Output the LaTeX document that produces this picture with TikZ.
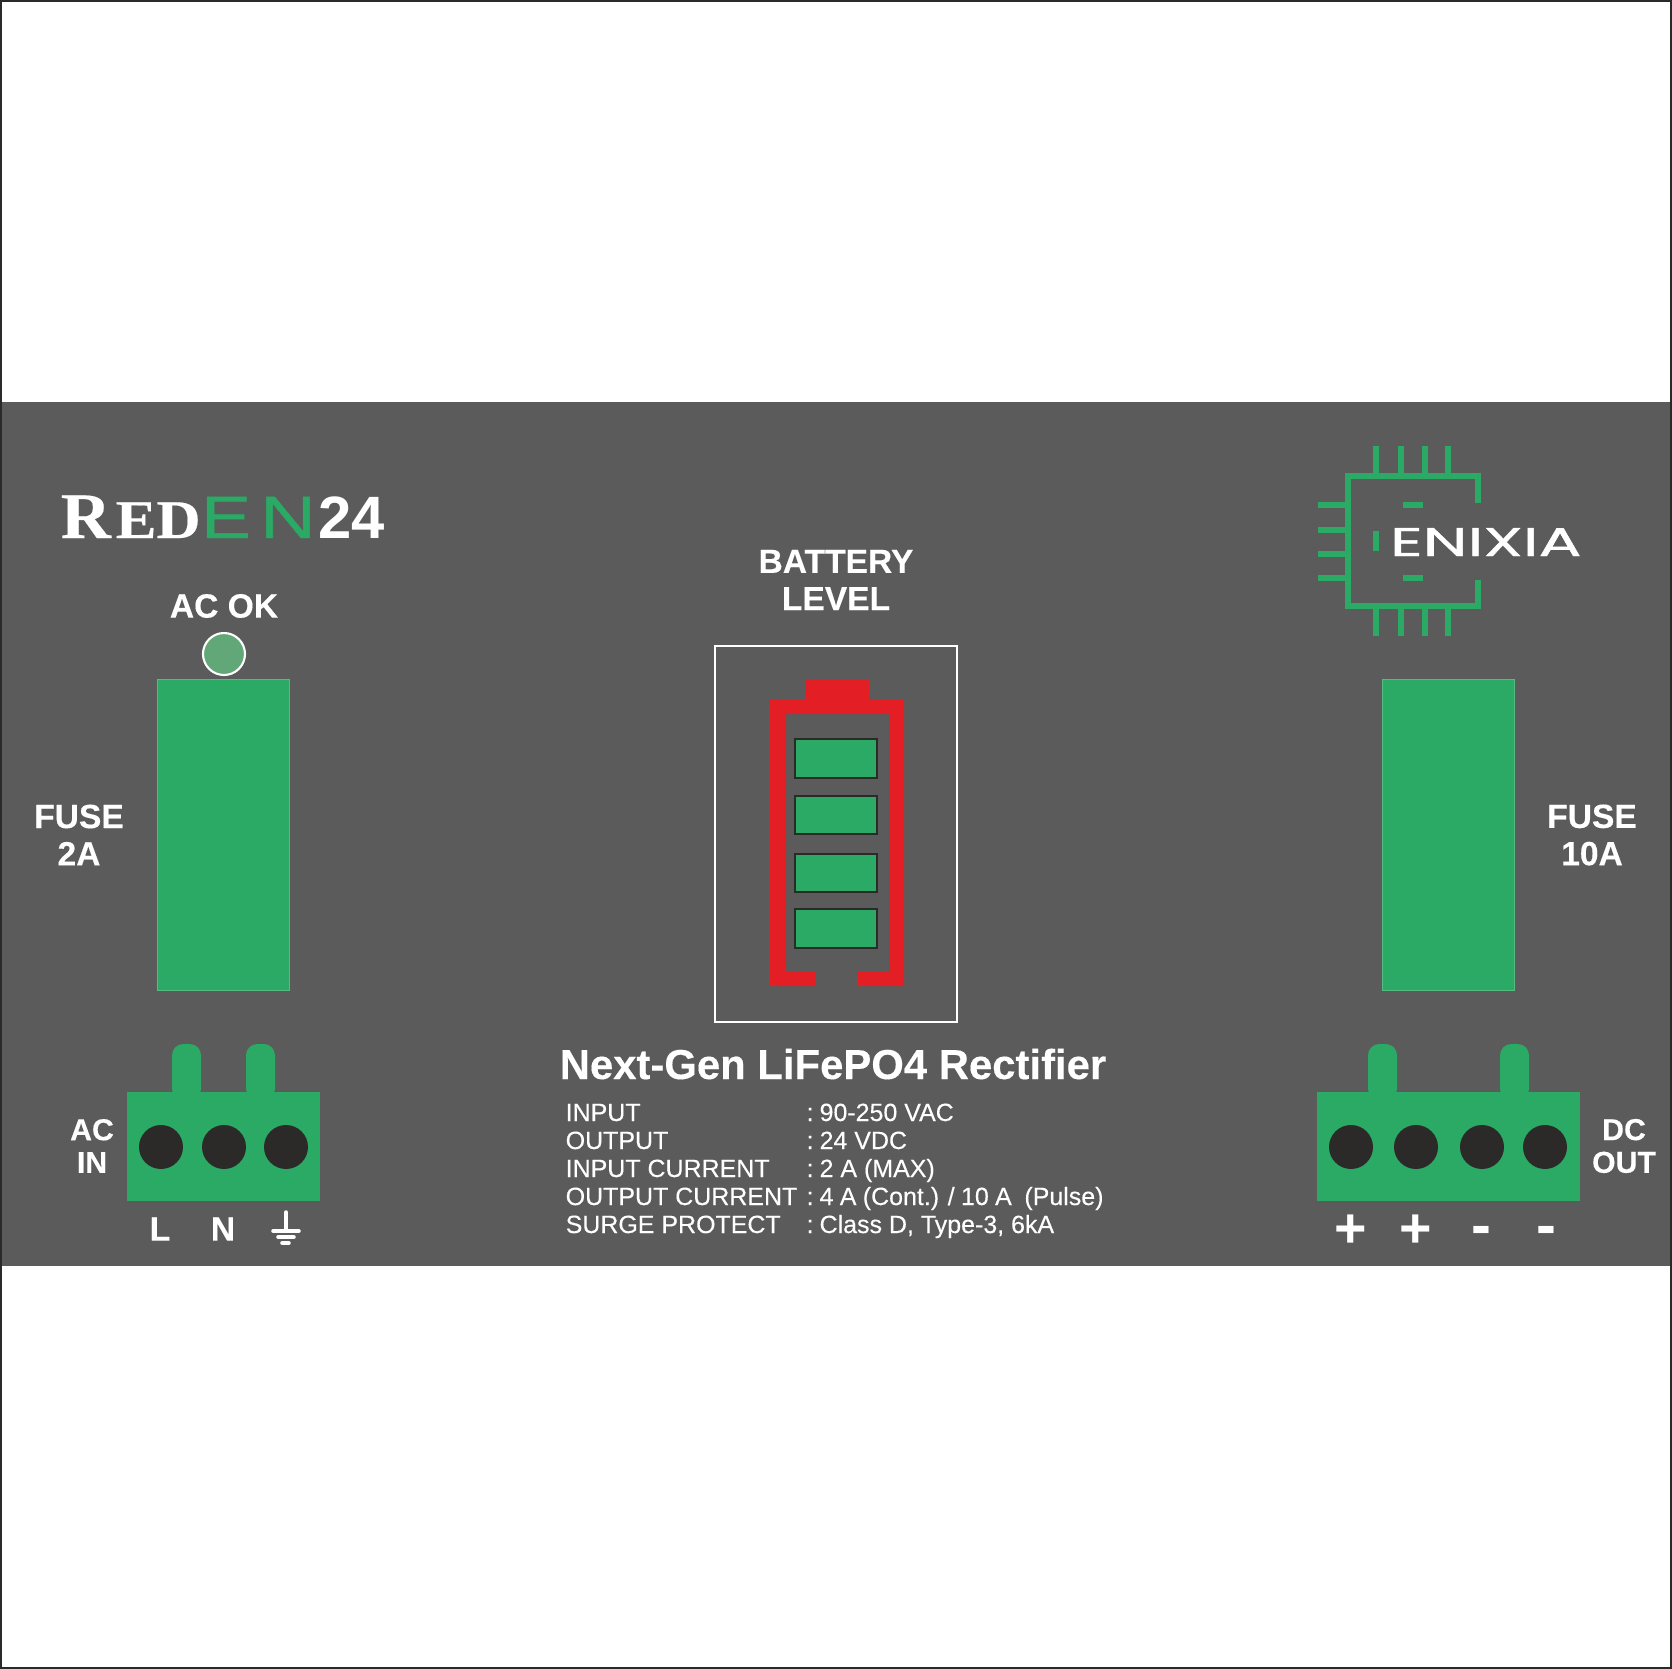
\documentclass[tikz,border=0pt]{standalone}
\usepackage{fontspec}
\setmainfont{Liberation Sans}
\newfontfamily\logoserif[FakeBold=0.3]{Liberation Serif}
\newfontfamily\logowide[FakeBold=0.9]{Poppins}
\newfontfamily\logothin[FakeBold=0.7]{Liberation Sans}
\newfontfamily\specfont[FakeBold=0.25]{Liberation Sans}
\newfontfamily\labelfont[FakeBold=0.25]{Liberation Sans Bold}
\definecolor{panelgray}{HTML}{5B5B5B}
\definecolor{termgreen}{HTML}{2AAA64}
\definecolor{ledgreen}{HTML}{62A777}
\definecolor{holeblack}{HTML}{2B2A29}
\definecolor{battred}{HTML}{E31E24}
\tikzset{
	whitetext/.style={text=white,inner sep=0pt,align=center},
	boldlabel/.style={whitetext,font=\labelfont\fontsize{9.55}{10.6}\selectfont},
	smalllabel/.style={whitetext,font=\labelfont\fontsize{8.6}{9.3}\selectfont},
	speclabel/.style={whitetext,anchor=base west,font=\specfont\fontsize{7.1}{8}\selectfont},
	signlabel/.style={whitetext,anchor=base,font=\fontsize{17}{18}\selectfont\bfseries},
	pluslabel/.style={whitetext,anchor=base,font=\fontsize{15.8}{17}\selectfont\bfseries},
	greenbody/.style={fill=termgreen,draw=termgreen!80!white,line width=0.25pt},
	termbody/.style={fill=termgreen},
	termhole/.style={fill=holeblack},
	chipline/.style={draw=termgreen,line width=1.7pt},
	cellbox/.style={fill=termgreen,draw=holeblack,line width=0.6pt},
	groundline/.style={draw=white,line width=1pt,line cap=round}
}
\begin{document}
\begin{tikzpicture}[x=0.01cm,y=-0.01cm]
	\useasboundingbox (0,0) rectangle (1672,1669);
	\fill[white] (0,0) rectangle (1672,1669);
	\draw[holeblack,line width=0.6pt] (1,1) rectangle (1671,1668);
	\fill[panelgray] (2,402) rectangle (1670,1266);

	\node[whitetext,anchor=base west,xscale=1.07,font=\logoserif\fontsize{18.5}{20}\selectfont\bfseries] (logoR) at (60,538) {R};
	\node[whitetext,anchor=base west,xscale=1.12,font=\logoserif\fontsize{15.5}{17}\selectfont\bfseries] (logoED) at (115,538) {ED};
	\node[text=termgreen,inner sep=0pt,anchor=base west,xscale=1.26,font=\logothin\fontsize{17}{18}\selectfont] (logoE) at (200,538) {E};
	\node[text=termgreen,inner sep=0pt,anchor=base west,xscale=1.3,font=\logothin\fontsize{17}{18}\selectfont] (logoN) at (259,538) {N};
	\node[whitetext,anchor=base west,font=\fontsize{17}{18}\selectfont\bfseries] (logo24) at (318,538) {24};

	\node[boldlabel] (acok) at (224,606) {AC OK};
	\draw[fill=ledgreen,draw=white,line width=0.6pt] (224,654) circle (21);
	\draw[greenbody] (157,679) rectangle (289.5,990);
	\draw[greenbody] (1382,679) rectangle (1514.5,990);
	\node[boldlabel] (fuseleft) at (79,835) {FUSE\\2A};
	\node[boldlabel] (fuseright) at (1592,835) {FUSE\\10A};

	\draw[chipline] (1478,503) -- (1478,476) -- (1348,476) -- (1348,606) -- (1478,606) -- (1478,580);
	\draw[chipline] (1376,446) -- (1376,473);
	\draw[chipline] (1401,446) -- (1401,473);
	\draw[chipline] (1425,446) -- (1425,473);
	\draw[chipline] (1448,446) -- (1448,473);
	\draw[chipline] (1376,609) -- (1376,636);
	\draw[chipline] (1401,609) -- (1401,636);
	\draw[chipline] (1425,609) -- (1425,636);
	\draw[chipline] (1448,609) -- (1448,636);
	\draw[chipline] (1318,505) -- (1345,505);
	\draw[chipline] (1318,530) -- (1345,530);
	\draw[chipline] (1318,554) -- (1345,554);
	\draw[chipline] (1318,578) -- (1345,578);
	\draw[chipline] (1403,505) -- (1423,505);
	\draw[chipline] (1403,578) -- (1423,578);
	\draw[chipline] (1376,531) -- (1376,551);
	\node[whitetext,anchor=base west,xscale=1.59,font=\logowide\fontsize{11.4}{13}\selectfont] (enixia) at (1389,556) {ENIXIA};

	\node[boldlabel] (battlabel) at (836,580) {BATTERY\\LEVEL};
	\draw[white,line width=0.65pt] (715,646) rectangle (957,1022);
	\fill[battred] (806,680) -- (869,680) -- (869,700) -- (904,700) -- (904,986) -- (858,986) -- (858,971) -- (889,971) -- (889,714) -- (786,714) -- (786,971) -- (815,971) -- (815,986) -- (770,986) -- (770,700) -- (806,700) -- cycle;
	\draw[cellbox] (795,739) rectangle (877,778);
	\draw[cellbox] (795,796) rectangle (877,834);
	\draw[cellbox] (795,854) rectangle (877,892);
	\draw[cellbox] (795,909) rectangle (877,948);

	\fill[termbody,rounded corners=3.2pt] (172,1100) -- (172,1044) -- (201,1044) -- (201,1100) -- cycle;
	\fill[termbody,rounded corners=3.2pt] (246,1100) -- (246,1044) -- (275,1044) -- (275,1100) -- cycle;
	\fill[termbody] (127,1092) rectangle (320,1201);
	\fill[termhole] (161,1147) circle (22);
	\fill[termhole] (224,1147) circle (22);
	\fill[termhole] (286,1147) circle (22);
	\node[smalllabel] (acin) at (92,1146) {AC\\IN};
	\node[boldlabel] (pinL) at (160,1229) {L};
	\node[boldlabel] (pinN) at (223,1229) {N};
	\draw[groundline] (286,1212) -- (286,1231);
	\draw[groundline] (273,1231) -- (299,1231);
	\draw[groundline] (278,1237) -- (294,1237);
	\draw[groundline] (282,1243) -- (289,1243);

	\fill[termbody,rounded corners=3.2pt] (1368,1100) -- (1368,1044) -- (1397,1044) -- (1397,1100) -- cycle;
	\fill[termbody,rounded corners=3.2pt] (1500,1100) -- (1500,1044) -- (1529,1044) -- (1529,1100) -- cycle;
	\fill[termbody] (1317,1092) rectangle (1580,1201);
	\fill[termhole] (1351,1147) circle (22);
	\fill[termhole] (1416,1147) circle (22);
	\fill[termhole] (1482,1147) circle (22);
	\fill[termhole] (1545,1147) circle (22);
	\node[smalllabel] (dcout) at (1624,1146) {DC\\OUT};
	\node[pluslabel] (plusa) at (1351,1247) {+};
	\node[pluslabel] (plusb) at (1416,1247) {+};
	\node[signlabel] (minusa) at (1481,1245) {-};
	\node[signlabel] (minusb) at (1546,1245) {-};

	\node[whitetext,anchor=base,font=\labelfont\fontsize{11.9}{13}\selectfont] (title) at (833,1079) {Next-Gen LiFePO4 Rectifier};
	\node[speclabel] (specone) at (565,1121) {INPUT};
	\node[speclabel] (spectwo) at (565,1149) {OUTPUT};
	\node[speclabel] (specthree) at (565,1177) {INPUT CURRENT};
	\node[speclabel] (specfour) at (565,1205) {OUTPUT CURRENT};
	\node[speclabel] (specfive) at (565,1233) {SURGE PROTECT};
	\node[speclabel] (valone) at (806,1121) {:\kern1.7pt 90-250 VAC};
	\node[speclabel] (valtwo) at (806,1149) {:\kern1.7pt 24 VDC};
	\node[speclabel] (valthree) at (806,1177) {:\kern1.7pt 2 A (MAX)};
	\node[speclabel] (valfour) at (806,1205) {\spaceskip=1.8pt:\kern1.7pt 4 A (Cont.) / 10 A\ \ (Pulse)};
	\node[speclabel] (valfive) at (806,1233) {:\kern1.7pt Class D, Type-3, 6kA};
\end{tikzpicture}
\end{document}
